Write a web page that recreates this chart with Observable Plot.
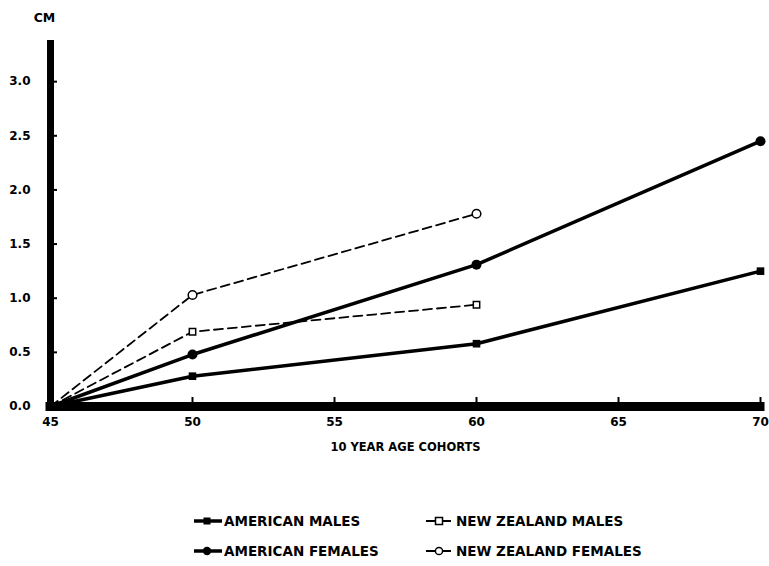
<!DOCTYPE html>
<html><head><meta charset="utf-8">
<script src="https://cdn.jsdelivr.net/npm/d3@7"></script>
<script src="https://cdn.jsdelivr.net/npm/@observablehq/plot@0.6"></script>
<style>
body{margin:0;background:#fff;font-family:"DejaVu Sans",Arial,sans-serif;}
#legend{position:relative;height:101px;}
.item{position:absolute;display:flex;align-items:center;font-weight:bold;font-size:13.5px;color:#000;white-space:nowrap;}
.item svg{display:block;}
</style></head><body>
<div id="chart"></div>
<div id="legend"></div>
<script>
// ---- data ----
const ages = [45, 50, 60, 70];
const americanMales = [0, 0.28, 0.58, 1.25];
const americanFemales = [0, 0.48, 1.31, 2.45];
const nzAges = [45, 50, 60];
const nzMales = [0, 0.69, 0.94];
const nzFemales = [0, 1.03, 1.78];
const xTicks = [45, 50, 55, 60, 65, 70];
const yTicks = [0, 0.5, 1, 1.5, 2, 2.5, 3];
const seriesNames = ["AMERICAN MALES", "AMERICAN FEMALES", "NEW ZEALAND MALES", "NEW ZEALAND FEMALES"];
const yLabel = "CM";
const xLabel = "10 YEAR AGE COHORTS";

const series = [
  {name: seriesNames[0], x: ages, y: americanMales, dashed: false, symbol: "square", filled: true},
  {name: seriesNames[1], x: ages, y: americanFemales, dashed: false, symbol: "circle", filled: true},
  {name: seriesNames[2], x: nzAges, y: nzMales, dashed: true, symbol: "square", filled: false},
  {name: seriesNames[3], x: nzAges, y: nzFemales, dashed: true, symbol: "circle", filled: false}
];
const rows = series.flatMap(s => s.x.map((a, i) => ({series: s.name, age: a, value: s.y[i], ...s})));
const solid = rows.filter(d => !d.dashed);
const dashed = rows.filter(d => d.dashed);
const pts = rows.filter(d => d.age > 45);

const yTop = 3.38;
const font = "'DejaVu Sans', Arial, sans-serif";

const chart = Plot.plot({
  width: 769,
  height: 465,
  marginLeft: 50,
  marginRight: 9,
  marginTop: 40,
  marginBottom: 59,
  style: {fontFamily: font, fontWeight: "bold", fontSize: "12px", color: "#000", background: "#fff"},
  x: {domain: [45, 70]},
  y: {domain: [0, yTop]},
  marks: [
    Plot.axisY({ticks: yTicks, tickFormat: d3.format(".1f"), tickSize: -7, tickPadding: 27, strokeWidth: 2, label: null, fontWeight: "bold", fontSize: 12}),
    Plot.axisX({ticks: xTicks, tickFormat: d => d, tickSize: -9, tickPadding: 20, strokeWidth: 2, label: null, fontWeight: "bold", fontSize: 12}),
    Plot.ruleX([45], {y1: 0, y2: yTop, strokeWidth: 7, stroke: "#000"}),
    Plot.ruleY([0], {x1: 45, x2: 70, strokeWidth: 9, stroke: "#000", strokeLinecap: "square"}),
    Plot.line(solid, {x: "age", y: "value", z: "series", stroke: "#000", strokeWidth: 3.5}),
    Plot.line(dashed, {x: "age", y: "value", z: "series", stroke: "#000", strokeWidth: 1.8, strokeDasharray: "9,5"}),
    Plot.dot(pts.filter(d => d.filled && d.symbol === "square"), {x: "age", y: "value", symbol: "square", r: 4.3, fill: "#000", stroke: "none"}),
    Plot.dot(pts.filter(d => d.filled && d.symbol === "circle"), {x: "age", y: "value", symbol: "circle", r: 5, fill: "#000", stroke: "none"}),
    Plot.dot(pts.filter(d => !d.filled && d.symbol === "square"), {x: "age", y: "value", symbol: "square", r: 3.6, fill: "#fff", stroke: "#000", strokeWidth: 1.5}),
    Plot.dot(pts.filter(d => !d.filled && d.symbol === "circle"), {x: "age", y: "value", symbol: "circle", r: 4.3, fill: "#fff", stroke: "#000", strokeWidth: 1.5}),
    Plot.text([yLabel], {frameAnchor: "top-left", dx: -6, dy: -23, textAnchor: "middle", lineAnchor: "middle", fontSize: 12.5, fontWeight: "bold", fill: "#000"}),
    Plot.text([xLabel], {frameAnchor: "bottom", dy: 41, textAnchor: "middle", lineAnchor: "middle", fontSize: 11.5, fontWeight: "bold", fill: "#000"})
  ]
});
document.getElementById("chart").appendChild(chart);

// ---- legend (HTML below the SVG) ----
const legend = document.getElementById("legend");
const pos = [[193, 56], [193, 86], [425, 56], [425, 86]];
series.forEach((s, i) => {
  const div = document.createElement("div");
  div.className = "item";
  div.style.left = pos[i][0] + "px";
  div.style.top = (pos[i][1] - 9) + "px";
  const sw = s.dashed ? 2 : 3.5;
  let marker;
  if (s.symbol === "square") {
    const size = 7;
    marker = `<rect x="${14 - size/2}" y="${9 - size/2}" width="${size}" height="${size}" fill="${s.filled ? "#000" : "#fff"}" stroke="#000" stroke-width="${s.filled ? 0 : 1.5}"/>`;
  } else {
    marker = `<circle cx="14" cy="9" r="${s.filled ? 4.2 : 3.6}" fill="${s.filled ? "#000" : "#fff"}" stroke="#000" stroke-width="${s.filled ? 0 : 1.5}"/>`;
  }
  const w = s.dashed ? 27 : 30;
  div.innerHTML = `<svg width="${w}" height="18"><line x1="1" x2="${w - 1}" y1="9" y2="9" stroke="#000" stroke-width="${sw}"/>${marker}</svg><span style="margin-left:${s.dashed ? 4 : 1}px">${s.name}</span>`;
  legend.appendChild(div);
});
</script>
</body></html>
